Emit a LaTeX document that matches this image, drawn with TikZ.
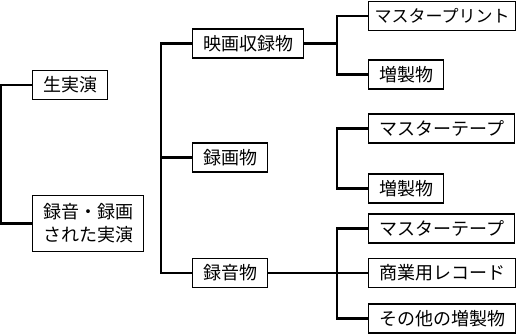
\documentclass[tikz,border=0pt]{standalone}
\usepackage{fontspec}
\setmainfont{Noto Sans CJK JP}
\usepackage{tikz}
\usetikzlibrary{positioning}

\tikzset{
  item/.style={draw,line width=1.2pt,anchor=west,inner xsep=10.5pt,inner ysep=2pt,minimum height=29pt,font=\fontsize{18}{23}\selectfont},
  link/.style={line width=2.5pt}
}

\begin{document}
\begin{tikzpicture}[x=1pt,y=-1pt]
\useasboundingbox (0,0) rectangle (520,334);
% left column
\node[item] (live) at (32,85) {生実演};
\node[item,align=center,inner ysep=8pt] (recd) at (32,223.5) {録音・録画\\された実演};
% middle column
\node[item] (film) at (192,43.5) {映画収録物};
\node[item] (video) at (192,157.5) {録画物};
\node[item] (audio) at (192,273) {録音物};
% right column
\node[item,inner xsep=6pt,font=\fontsize{17}{23}\selectfont] (mprint) at (368,16) {マスタープリント};
\node[item] (dupa) at (368,74.5) {増製物};
\node[item] (mtapea) at (368,128.5) {マスターテープ};
\node[item] (dupb) at (368,188.5) {増製物};
\node[item] (mtapeb) at (368,228.5) {マスターテープ};
\node[item] (disc) at (368,273) {商業用レコード};
\node[item] (other) at (368,318.5) {その他の増製物};
% brackets
\draw[link] (live.west) -- ++(-31,0) |- (recd.west);
\draw[link] (film.west) -- ++(-31,0) |- (audio.west);
\draw[link] (video.west) -- ++(-31,0);
\draw[link] (film.east) -- ++(34,0);
\draw[link] (mprint.west) -- ++(-31,0) |- (dupa.west);
\draw[link] (mtapea.west) -- ++(-31,0) |- (dupb.west);
\draw[link] (audio.east) -- (disc.west);
\draw[link] (mtapeb.west) -- ++(-31,0) |- (other.west);
\end{tikzpicture}
\end{document}
